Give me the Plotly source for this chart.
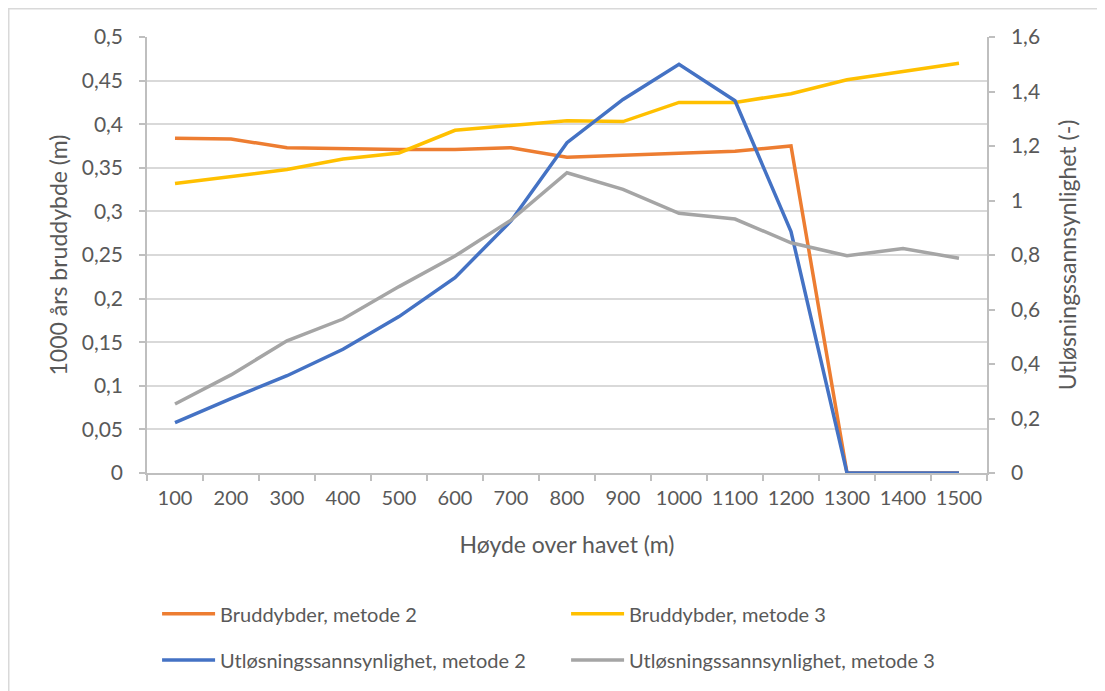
import plotly.graph_objects as go

# ---- data ----
heights = ["100", "200", "300", "400", "500", "600", "700", "800",
           "900", "1000", "1100", "1200", "1300", "1400", "1500"]

brudd_m2 = [0.384, 0.383, 0.373, 0.372, 0.371, 0.371, 0.373, 0.362,
            0.364, 0.367, 0.369, 0.375, 0.0, 0.0, 0.0]
brudd_m3 = [0.332, 0.340, 0.348, 0.360, 0.367, 0.393, 0.399, 0.404,
            0.403, 0.425, 0.425, 0.435, 0.451, 0.460, 0.470]
utl_m2 = [0.185, 0.273, 0.357, 0.454, 0.574, 0.717, 0.925, 1.212,
          1.371, 1.500, 1.366, 0.886, 0.0, 0.0, 0.0]
utl_m3 = [0.253, 0.360, 0.485, 0.565, 0.684, 0.796, 0.928, 1.102,
          1.041, 0.953, 0.932, 0.845, 0.797, 0.824, 0.788]

left_tickvals = [0, 0.05, 0.1, 0.15, 0.2, 0.25, 0.3, 0.35, 0.4, 0.45, 0.5]
left_ticktext = ["0", "0,05", "0,1", "0,15", "0,2", "0,25", "0,3", "0,35",
                 "0,4", "0,45", "0,5"]
right_tickvals = [0, 0.2, 0.4, 0.6, 0.8, 1.0, 1.2, 1.4, 1.6]
right_ticktext = ["0", "0,2", "0,4", "0,6", "0,8", "1", "1,2", "1,4", "1,6"]

names = ["Bruddybder, metode 2", "Bruddybder, metode 3",
         "Utløsningssannsynlighet, metode 2", "Utløsningssannsynlighet, metode 3"]
colors = ["#ED7D31", "#FFC000", "#4472C4", "#A5A5A5"]

FONT = "Lato"
TXT = "#595959"
GRID = "#D9D9D9"
AXIS = "#BFBFBF"
LW = 3.5

fig = go.Figure()
fig.add_trace(go.Scatter(x=heights, y=brudd_m2, name=names[0], mode="lines",
                         line=dict(color=colors[0], width=LW), yaxis="y", legend="legend"))
fig.add_trace(go.Scatter(x=heights, y=brudd_m3, name=names[1], mode="lines",
                         line=dict(color=colors[1], width=LW), yaxis="y", legend="legend"))
fig.add_trace(go.Scatter(x=heights, y=utl_m2, name=names[2], mode="lines",
                         line=dict(color=colors[2], width=LW), yaxis="y2", legend="legend2"))
fig.add_trace(go.Scatter(x=heights, y=utl_m3, name=names[3], mode="lines",
                         line=dict(color=colors[3], width=LW), yaxis="y2", legend="legend2"))

legend_common = dict(orientation="h", xanchor="left", yanchor="middle",
                     font=dict(family=FONT, size=20, color=TXT),
                     entrywidth=341, entrywidthmode="pixels", itemwidth=53,
                     bgcolor="rgba(0,0,0,0)", borderwidth=0)

fig.update_layout(
    width=1097, height=683,
    margin=dict(l=139, r=118, t=29, b=218),
    paper_bgcolor="white", plot_bgcolor="white",
    font=dict(family=FONT, color=TXT),
    showlegend=True,
    legend=dict(x=0.012, y=-0.323, **legend_common),
    legend2=dict(x=0.012, y=-0.429, **legend_common),
    xaxis=dict(
        type="category", range=[-0.5, 14.5],
        showline=True, linecolor=AXIS, linewidth=1.5,
        ticks="outside", tickson="boundaries", ticklen=6, tickcolor=AXIS, tickwidth=1.5,
        ticklabelstandoff=6, tickangle=0,
        tickfont=dict(family=FONT, size=20, color=TXT),
        showgrid=False, zeroline=False,
        title=dict(text="Høyde over havet (m)", font=dict(family=FONT, size=23, color=TXT), standoff=29),
    ),
    yaxis=dict(
        range=[0, 0.5], tickvals=left_tickvals, ticktext=left_ticktext,
        showline=True, linecolor=AXIS, linewidth=1.5,
        ticks="outside", ticklen=6, tickcolor=AXIS, tickwidth=1.5,
        ticklabelstandoff=12,
        tickfont=dict(family=FONT, size=21, color=TXT),
        showgrid=True, gridcolor=GRID, gridwidth=1.5, zeroline=False,
        title=dict(text="1000 års bruddybde (m)", font=dict(family=FONT, size=23, color=TXT), standoff=8),
    ),
    yaxis2=dict(
        range=[0, 1.6], tickvals=right_tickvals, ticktext=right_ticktext,
        overlaying="y", side="right",
        showline=True, linecolor=AXIS, linewidth=1.5,
        ticks="outside", ticklen=6, tickcolor=AXIS, tickwidth=1.5,
        ticklabelstandoff=12,
        tickfont=dict(family=FONT, size=21, color=TXT),
        showgrid=False, zeroline=False,
        title=dict(text="Utløsningssannsynlighet (-)", font=dict(family=FONT, size=23, color=TXT), standoff=21),
    ),
    shapes=[dict(type="rect", xref="paper", yref="paper",
                 x0=(0.75 - 139) / 840, x1=(1110 - 139) / 840,
                 y0=(465 - 700) / 436, y1=(465 - 0.75) / 436,
                 line=dict(color=GRID, width=1.5), fillcolor="rgba(0,0,0,0)", layer="below")],
)

fig.write_html("out.html")
